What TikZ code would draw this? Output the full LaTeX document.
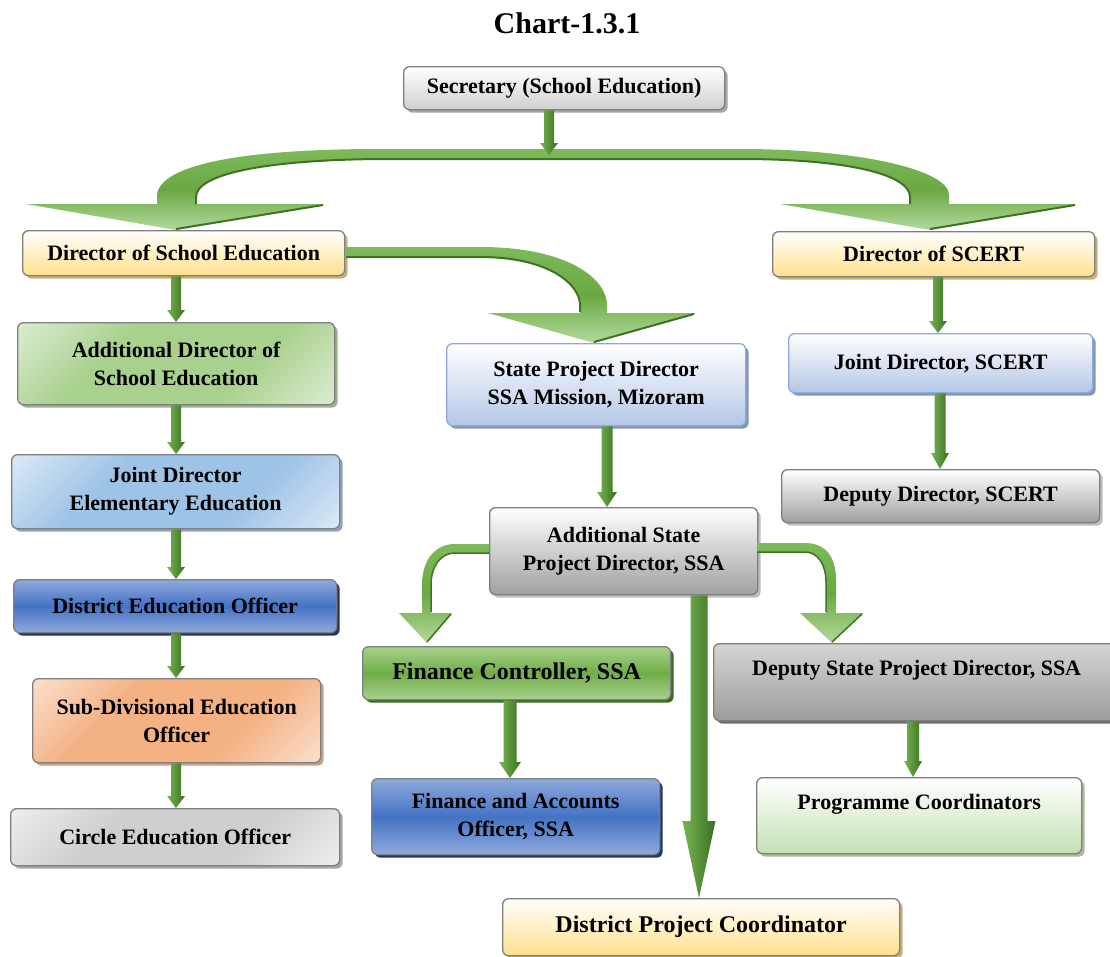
\documentclass[tikz,border=0pt]{standalone}
\usepackage{fontspec}
\setmainfont{Liberation Serif}
\usetikzlibrary{shadows,calc}

\definecolor{bgray}{HTML}{7F7F7F}
\definecolor{bblue}{HTML}{8EAADB}
\definecolor{ylw}{HTML}{FFE08C}
\definecolor{ylwsh}{HTML}{C8B07A}
\definecolor{grn1}{HTML}{A9D18E}
\definecolor{grn2}{HTML}{E2EFD9}
\definecolor{grnsh}{HTML}{9CB08E}
\definecolor{lb1}{HTML}{9DC3E6}
\definecolor{lb2}{HTML}{E3EEF9}
\definecolor{lbsh}{HTML}{8FA3BF}
\definecolor{mb1}{HTML}{8FAADC}
\definecolor{mb2}{HTML}{4472C4}
\definecolor{mbsh}{HTML}{1F3864}
\definecolor{fc1}{HTML}{A9D18E}
\definecolor{fc2}{HTML}{70AD47}
\definecolor{fcsh}{HTML}{3B6B22}
\definecolor{or1}{HTML}{F4B183}
\definecolor{or2}{HTML}{FBE5D6}
\definecolor{orsh}{HTML}{C8A084}
\definecolor{gy1}{HTML}{CFCFCF}
\definecolor{gy2}{HTML}{F2F2F2}
\definecolor{gysh}{HTML}{A6A6A6}
\definecolor{secb}{HTML}{D0D0D0}
\definecolor{dkg}{HTML}{A0A0A0}
\definecolor{dkgsh}{HTML}{BDBDBD}
\definecolor{ds1}{HTML}{D5D5D5}
\definecolor{ds2}{HTML}{9C9C9C}
\definecolor{dssh}{HTML}{707070}
\definecolor{blt}{HTML}{B4C7E7}
\definecolor{bltsh}{HTML}{8497B0}
\definecolor{pcg}{HTML}{C5E0B4}
\definecolor{pcsh}{HTML}{A9B99E}
\definecolor{ag1}{HTML}{7DBA5A}
\definecolor{agm}{HTML}{6AA843}
\definecolor{ag2}{HTML}{3F7324}
\definecolor{ag3}{HTML}{B3DA9C}
\definecolor{al}{HTML}{78B552}
\definecolor{ar}{HTML}{3B6E22}
\colorlet{dgA}{white}
\colorlet{dgB}{gray}

\pgfdeclareverticalshading[dgA,dgB]{diagband}{100bp}{color(0bp)=(dgA); color(12bp)=(dgA); color(36bp)=(dgB); color(64bp)=(dgB); color(88bp)=(dgA); color(100bp)=(dgA)}

\tikzset{
  sh/.style={drop shadow={shadow xshift=3pt,shadow yshift=-3pt,fill=#1,opacity=1}},
  box/.style={draw=bgray, line width=1.3pt, rounded corners=6pt, anchor=north west,
    inner sep=2pt, align=center, font=\bfseries\fontsize{22}{28}\selectfont},
  bigfont/.style={font=\bfseries\fontsize{24}{29}\selectfont},
  band/.style n args={3}{top color=#1, bottom color=#3, middle color=#2},
  diag/.style 2 args={/utils/exec={\colorlet{dgA}{#1}\colorlet{dgB}{#2}}, shading=diagband, shading angle=45},
  arrowfill/.style={left color=al, right color=ar},
  bigarrow/.style={top color=ag1, bottom color=ag3, middle color=agm},
  edge/.style={draw=ag2, line width=2pt},
}

% small straight arrow: x, start anchor, end anchor, shaft half width, head half width, head length
\newcommand\sarr[6]{%
  \path[arrowfill] let \p1=(#2), \p2=(#3) in
    (#1pt-#4pt,\y1) -- (#1pt+#4pt,\y1) -- (#1pt+#4pt,\y2+#6pt) -- (#1pt+#5pt,\y2+#6pt)
    -- (#1pt,\y2) -- (#1pt-#5pt,\y2+#6pt) -- (#1pt-#4pt,\y2+#6pt) -- cycle;}

\begin{document}
\begin{tikzpicture}[x=1pt,y=-1pt]
\useasboundingbox (0,0) rectangle (1110,956);

% title
\node[font=\bfseries\fontsize{30}{36}\selectfont, anchor=base] (title) at (567,33) {Chart-1.3.1};

% boxes
\node[box, minimum width=321pt, minimum height=43pt, top color=white, bottom color=secb, sh=gysh] (sec) at (403,66) {Secretary (School Education)};
\node[box, minimum width=322pt, minimum height=45pt, top color=white, bottom color=ylw, sh=ylwsh] (dse) at (22,230) {Director of School Education};
\node[box, minimum width=322pt, minimum height=45pt, top color=white, bottom color=ylw, sh=ylwsh] (dscert) at (772,231) {Director of SCERT};
\node[box, minimum width=317pt, minimum height=82pt, diag={grn2}{grn1}, sh=grnsh] (add) at (17,322) {Additional Director of\\School Education};
\node[box, draw=bblue, minimum width=299pt, minimum height=82pt, top color=white, bottom color=blt, sh=bltsh] (spd) at (446,343) {State Project Director\\SSA Mission, Mizoram};
\node[box, draw=bblue, minimum width=304pt, minimum height=59pt, top color=white, bottom color=blt, sh=bltsh] (jdscert) at (788,333) {Joint Director, SCERT};
\node[box, minimum width=318pt, minimum height=53pt, top color=white, bottom color=dkg, sh=dkgsh] (dd) at (781,469) {Deputy Director, SCERT};
\node[box, minimum width=328pt, minimum height=74pt, diag={lb2}{lb1}, sh=lbsh] (jd) at (11,454) {Joint Director\\Elementary Education};
\node[box, minimum width=268pt, minimum height=87pt, top color=white, bottom color=dkg, sh=dkgsh] (aspd) at (489,507) {Additional State\\Project Director, SSA};
\node[box, minimum width=323pt, minimum height=53pt, band={mb1}{mb2}{mb1}, sh=mbsh] (deo) at (13,579) {District Education Officer};
\node[box, bigfont, minimum width=308pt, minimum height=53pt, band={fc1}{fc2}{fc1}, sh=fcsh] (fc) at (362,646) {Finance Controller, SSA};
\node[box, minimum width=406pt, minimum height=77pt, top color=ds1, bottom color=ds2, sh=dssh] (dspd) at (713,643) {Deputy State Project Director, SSA\\\mbox{}};
\node[box, minimum width=288pt, minimum height=84pt, diag={or2}{or1}, sh=orsh] (sdeo) at (32,678) {Sub-Divisional Education\\Officer};
\node[box, minimum width=288pt, minimum height=76pt, band={mb1}{mb2}{mb1}, sh=mbsh] (fao) at (371,778) {Finance and Accounts\\Officer, SSA};
\node[box, minimum width=325pt, minimum height=76pt, top color=white, bottom color=pcg, sh=pcsh] (pc) at (756,777) {Programme Coordinators\\\mbox{}};
\node[box, minimum width=329pt, minimum height=57pt, diag={gy2}{gy1}, sh=gysh] (ceo) at (10,808) {Circle Education Officer};
\node[box, bigfont, minimum width=397pt, minimum height=57pt, top color=white, bottom color=ylw, sh=ylwsh] (dpc) at (502,898) {District Project Coordinator};

% big curved arrow from Secretary to the two Directors
\coordinate (bar) at (549,155);
\path[bigarrow] (157,204) -- (157,195) .. controls (160,165) and (240,149) .. (380,149)
  -- (740,149) .. controls (860,149) and (949,170) .. (949,195) -- (949,204)
  -- (1077,204) -- (930,230) -- (780,204) -- (910,204) -- (910,197)
  .. controls (910,175) and (850,159) .. (740,159) -- (380,159)
  .. controls (260,160) and (196,175) .. (196,197) -- (196,204)
  -- (325,204) -- (176,230) -- (26,204) -- cycle;
\draw[edge] (196,204) -- (196,197) .. controls (196,175) and (260,160) .. (380,159) -- (740,159)
  .. controls (850,159) and (910,175) .. (910,197) -- (910,204);
\draw[edge] (323,205) -- (176,229);
\draw[edge] (1075,205) -- (930,229);
\sarr{549}{sec.south}{bar}{5}{9}{12}

% curved arrow Director of School Education -> State Project Director
\path[bigarrow] (346,247) -- (480,247) .. controls (570,247) and (607,280) .. (607,305) -- (607,313)
  -- (696,313) -- (594,343) -- (488,313) -- (580,313) -- (580,305)
  .. controls (580,285) and (550,257) .. (480,257) -- (346,257) -- cycle;
\draw[edge] (346,257) -- (480,257) .. controls (550,257) and (580,285) .. (580,305) -- (580,312);
\draw[edge] (694,314) -- (594,342);

% curved arrows from Additional State Project Director
\path[bigarrow] (489,544) -- (455,544) .. controls (435,544) and (422,560) .. (422,585) -- (422,613)
  -- (399,613) -- (427,643) -- (452,613) -- (431,613) -- (431,585)
  .. controls (431,567) and (440,553) .. (455,553) -- (489,553) -- cycle;
\draw[edge, line width=1.5pt] (489,553) -- (455,553) .. controls (440,553) and (431,567) .. (431,585) -- (431,612);
\draw[edge, line width=1.5pt] (451,614) -- (427,642);
\path[bigarrow] (757,543) -- (805,543) .. controls (825,543) and (836,556) .. (836,580) -- (836,613)
  -- (863,613) -- (832,643) -- (800,613) -- (826,613) -- (826,582)
  .. controls (826,565) and (818,552) .. (805,552) -- (757,552) -- cycle;
\draw[edge, line width=1.5pt] (757,552) -- (805,552) .. controls (818,552) and (826,565) .. (826,582) -- (826,612);
\draw[edge, line width=1.5pt] (862,614) -- (832,642);

% straight arrows
\sarr{176}{dse.south}{add.north}{5}{9}{12}
\sarr{176}{add.south}{jd.north}{5}{9}{12}
\sarr{176}{jd.south}{deo.north}{5}{9}{12}
\sarr{176}{deo.south}{sdeo.north}{5}{9}{12}
\sarr{176}{sdeo.south}{ceo.north}{5}{9}{12}
\sarr{938}{dscert.south}{jdscert.north}{5}{9}{12}
\sarr{940}{jdscert.south}{dd.north}{5.5}{9}{16}
\sarr{607}{spd.south}{aspd.north}{5.5}{10}{15}
\sarr{510}{fc.south}{fao.north}{6.5}{11}{16}
\sarr{913}{dspd.south}{pc.north}{6}{9}{16}
\sarr{699}{aspd.south}{dpc.north}{8.5}{16.5}{77}
\end{tikzpicture}
\end{document}
